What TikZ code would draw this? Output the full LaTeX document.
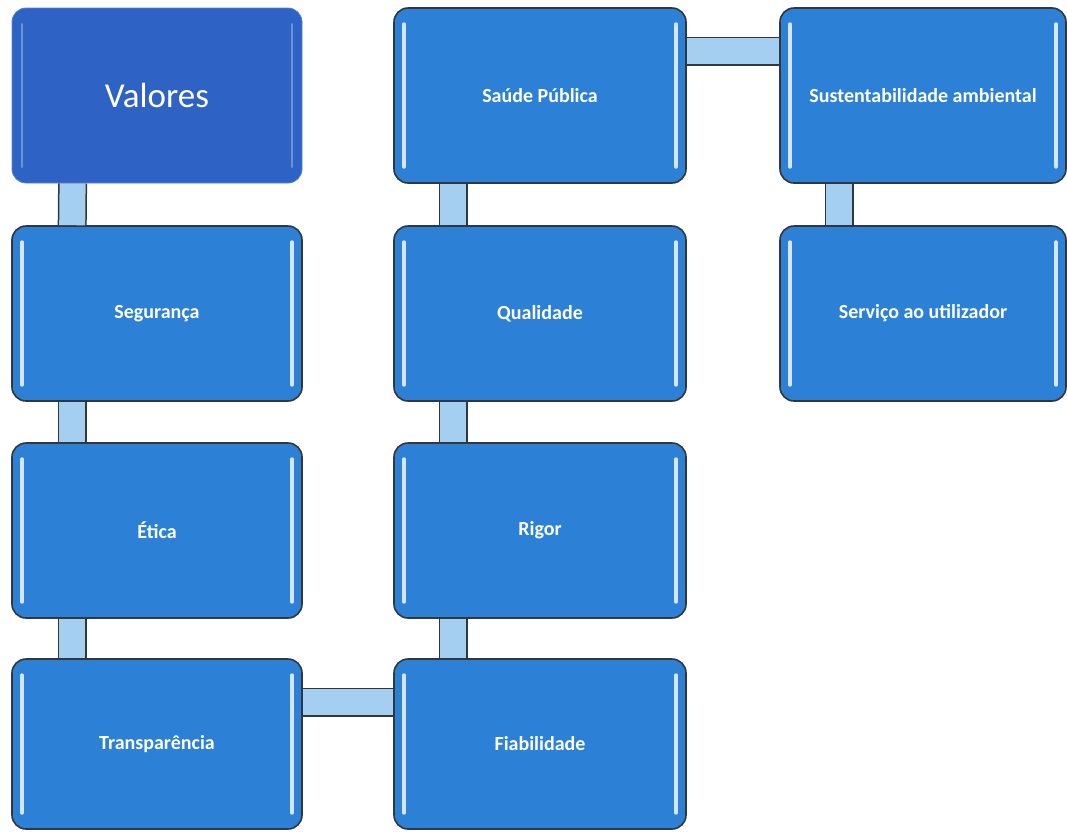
\documentclass[tikz,border=0pt]{standalone}
\usepackage{fontspec}
\setmainfont{Carlito}
\usetikzlibrary{calc}

\definecolor{caixa}{RGB}{44,128,214}
\definecolor{caixatopo}{RGB}{46,98,196}
\definecolor{barra}{RGB}{165,207,240}
\definecolor{contorno}{RGB}{50,55,60}

\begin{document}
\begin{tikzpicture}[x=1pt,y=-1pt,
        brilho/.style={line width=3.4pt,draw=white!80!caixa,line cap=round},
        valor/.style={draw=contorno,line width=1.6pt,fill=caixa,rounded corners=14pt,
            minimum width=290pt,minimum height=175pt,text=white,
            font=\bfseries\fontsize{20}{24}\selectfont,
            path picture={
                \draw[brilho] ([shift={(10pt,-16pt)}]path picture bounding box.north west)
                    -- ([shift={(10pt,16pt)}]path picture bounding box.south west);
                \draw[brilho] ([shift={(-10pt,-16pt)}]path picture bounding box.north east)
                    -- ([shift={(-10pt,16pt)}]path picture bounding box.south east);}},
        ligacao/.style={draw=contorno,line width=1.5pt,double=barra,double distance=26pt}]
                    \useasboundingbox (0,0) rectangle (1067,831);

                    % coluna da esquerda
                    \node[valor,fill=caixatopo,draw=caixatopo!80!white,line width=0.8pt,
                        brilho/.append style={draw=white!30!caixatopo,line width=2pt},
                        font=\fontsize{35}{40}\selectfont] (val) at (157,95.5) {Valores};
                    \node[valor] (seg) at (157,313.5) {Segurança};
                    \node[valor] (eti) at (157,530.5) {Ética};
                    \node[valor,minimum height=170pt] (tra) at (157,744) {Transparência};

                    % coluna do meio
                    \node[valor,minimum width=292pt] (sau) at (540,95.5) {Saúde Pública};
                    \node[valor,minimum width=292pt] (qua) at (540,313.5) {Qualidade};
                    \node[valor,minimum width=292pt] (rig) at (540,530.5) {Rigor};
                    \node[valor,minimum width=292pt,minimum height=170pt] (fia) at (540,744) {Fiabilidade};

                    % coluna da direita
                    \node[valor,minimum width=286pt] (sus) at (923,95.5) {Sustentabilidade ambiental};
                    \node[valor,minimum width=286pt] (ser) at (923,313.5) {Serviço ao utilizador};

                    % ligacoes
                    \draw[ligacao] ([xshift=61pt]val.south west) -- ([xshift=61pt]seg.north west);
                    \draw[ligacao] ([xshift=61pt]seg.south west) -- ([xshift=61pt]eti.north west);
                    \draw[ligacao] ([xshift=61pt]eti.south west) -- ([xshift=61pt]tra.north west);
                    \draw[ligacao] ([yshift=-44pt]tra.north east) -- ([yshift=-44pt]fia.north west);
                    \draw[ligacao] ([xshift=60pt]fia.north west) -- ([xshift=60pt]rig.south west);
                    \draw[ligacao] ([xshift=60pt]rig.north west) -- ([xshift=60pt]qua.south west);
                    \draw[ligacao] ([xshift=60pt]qua.north west) -- ([xshift=60pt]sau.south west);
                    \draw[ligacao] ([yshift=-44pt]sau.north east) -- ([yshift=-44pt]sus.north west);
                    \draw[ligacao] ([xshift=60pt]sus.south west) -- ([xshift=60pt]ser.north west);
                \end{tikzpicture}
\end{document}
